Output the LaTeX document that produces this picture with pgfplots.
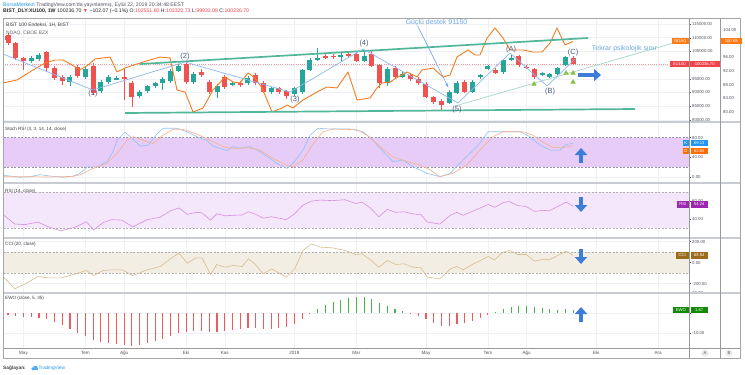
\documentclass[border=0pt]{standalone}
\usepackage{pgfplots}
\pgfplotsset{compat=1.18}
\usepackage{pgfplotstable}
\usepackage{fontspec}
\setmainfont{Liberation Sans}
\usetikzlibrary{arrows.meta}

\definecolor{cgreen}{HTML}{26A69A}
\definecolor{cred}{HTML}{EF5350}
\definecolor{corange}{HTML}{F57C1F}
\definecolor{chan}{HTML}{52B69A}
\definecolor{wave}{HTML}{8CB8EE}
\definecolor{psy}{HTML}{A6D6CC}
\definecolor{lbl}{HTML}{4D5B7C}
\definecolor{annot}{HTML}{6FA6E6}
\definecolor{abl}{HTML}{3B7DD8}
\definecolor{tri}{HTML}{8BC34A}
\definecolor{gridc}{HTML}{EFF1F6}
\definecolor{tickc}{HTML}{50535E}
\definecolor{sepc}{HTML}{C8CBD2}
\definecolor{stochband}{HTML}{E6CCF6}
\definecolor{rsiband}{HTML}{F4E6FB}
\definecolor{cciband}{HTML}{F3EEE3}
\definecolor{bandline}{HTML}{9A93A6}
\definecolor{kcol}{HTML}{93C2F5}
\definecolor{dcol}{HTML}{F8B08C}
\definecolor{rsicol}{HTML}{D690E0}
\definecolor{ccicol}{HTML}{D8BC90}
\definecolor{ewog}{HTML}{4CAF50}
\definecolor{ewor}{HTML}{F05A5A}
\definecolor{tvblue}{HTML}{2196F3}
\definecolor{kbox}{HTML}{2196F3}
\definecolor{dbox}{HTML}{FF6D00}
\definecolor{rsibox}{HTML}{9C27B0}
\definecolor{ccibox}{HTML}{9C6B1E}
\definecolor{ewobox}{HTML}{138A07}
\definecolor{pricered}{HTML}{F0444C}
\definecolor{ndaqbox}{HTML}{FF7A12}

\newcommand\fz[1]{\fontsize{#1}{#1}\selectfont}

% weekly candles, n = week index
\pgfplotstableread{
n o h l c
0 110985 111715 107335 108065
1 108065 108430 101860 102590
2 102590 102955 98210 101495
5 104780 105145 97480 98940
6 98940 99670 94560 95290
7 95655 96385 92735 94195
9 99305 100035 95290 96020
11 99670 100765 89085 89815
15 95655 98575 87260 94925
16 93465 94195 84705 88355
23 100400 101130 93100 93830
25 97480 98575 95655 96385
26 93830 94560 89450 90180
28 95655 96385 91275 92005
30 93465 94195 92005 93100
32 96385 97115 92735 93465
33 93465 94195 89815 90180
35 91640 92005 89450 90180
36 90545 90910 87625 88720
41 103320 104050 102225 102955
42 103500 104050 102400 102900
44 104050 104780 102955 103320
45 104050 104415 101130 101495
47 104050 105145 99305 99670
48 100035 100400 91640 93465
50 98940 99670 94925 95655
52 96385 97115 94195 94925
53 94925 95655 92735 93465
54 93100 93830 87990 88355
55 88355 88720 85800 86530
56 86895 87625 83610 85435
59 93830 94560 89815 90180
63 98210 98940 96750 97115
66 103320 103685 99305 100035
67 99487 100035 98575 99122
68 98575 98940 94925 95655
73 102551.80 103320.73 99933.08 100236.70
}\redc
\pgfplotstableread{
n o h l c
3 101495 103320 100765 102590
4 102225 104415 101495 103685
8 93830 96385 92370 95655
10 95655 99305 94925 98575
12 90545 94560 89815 93830
13 93830 96385 93100 95655
14 94925 96020 94560 95290
17 88720 90910 87990 90180
18 90545 92735 89815 92370
19 92370 93830 91640 93465
20 93465 95655 90910 94925
21 94195 98575 93465 97845
22 97845 100400 97480 99670
24 93830 97480 93100 96750
27 90180 93100 87990 92370
29 93100 94195 92370 93465
31 93465 96020 92735 95290
34 90180 92005 89450 91640
37 89450 92005 88720 91640
38 90180 98575 89450 98210
39 98210 102590 97845 101860
40 101860 106240 101495 102590
43 103320 104415 101495 103685
46 101495 104780 101130 103320
49 93465 99305 92370 98575
51 95655 97480 95290 96750
57 86165 90910 85800 90180
58 89815 94195 89450 93465
60 90180 94560 89815 93830
61 95655 96750 94925 96385
62 98575 100035 98210 99670
64 97480 102225 96750 101860
65 101860 103685 101495 102590
69 96750 97480 96020 97115
70 95655 97115 95290 96750
71 96750 99305 96385 98940
72 100035 103320 99670 102955
}\greenc
\pgfplotstableread{
n v
-0.65 88.49
1.16 89.37
2.20 90.83
3.23 92.29
4.78 94.34
6.07 95.22
7.11 95.22
8.27 93.76
9.30 92.29
10.34 93.76
11.24 95.51
13.18 96.10
14.08 91.71
15.12 92.88
17.05 94.34
19.64 96.10
20.93 95.81
21.83 86.44
22.87 85.86
23.90 80.00
25.19 81.17
26.49 86.44
28.04 90.25
29.07 88.78
29.97 88.49
31.01 91.42
31.91 89.95
32.82 87.03
34.11 80.00
35.40 81.17
36.05 82.05
36.82 81.17
38.11 83.51
39.92 85.86
41.21 87.32
42.51 87.03
43.93 91.71
45.09 83.51
46.77 84.10
47.67 87.03
48.32 88.49
49.35 88.78
50.39 90.25
51.55 91.71
52.84 90.25
53.49 92.29
54.91 92.88
56.20 90.25
57.11 90.83
58.01 96.10
59.43 98.15
60.34 96.68
60.98 96.68
61.89 101.66
62.92 104.59
63.95 101.66
64.86 98.15
66.54 98.15
67.83 97.56
69.00 97.56
70.03 100.20
70.93 104.59
71.96 99.61
73.00 100.68
}\ndaq
\pgfplotstableread{
n v
-1.03 4.6
0.26 2.6
1.55 0
2.84 1.2
4.13 5.3
5.43 2.6
7.11 0
8.40 2.6
9.30 8
10.21 21
11.50 21
12.79 31.5
13.57 51.7
14.08 75
15.12 91
16.02 79
17.05 63
18.09 65
19.25 87.5
20.03 99
21.83 99
23.13 92
24.42 82
25.71 74
26.49 63
28.29 54
29.07 62
29.97 58.6
31.27 62
32.56 51.7
33.85 38
34.75 28
36.05 18
36.82 28
38.11 55
39.02 85
40.05 99
41.60 97.6
44.19 97.6
45.87 92
47.16 75
48.06 58.6
49.74 31.5
51.03 35
52.33 21.4
54.13 8
55.81 1.2
57.11 8
58.79 35
60.59 62
62.02 92
63.95 92
66.15 92
67.44 82
68.73 65
70.03 55
71.32 55
71.96 65
73 69.13
}\stk
\pgfplotstableread{
n v
-1.03 1.2
2.84 1.2
5.43 0.5
8.40 2
9.30 5
10.98 18
12.79 28
14.08 48
15.37 75
16.15 82
17.44 75
18.73 68
20.03 85
21.32 97
22.61 97
24.42 87
26.10 75
27.78 62
29.07 58
30.88 60
32.56 55
34.24 38
36.05 24
36.82 21
38.11 35
39.41 68
40.70 92
41.99 97.6
45.09 96
46.38 85
48.06 62
49.74 41
51.55 31.5
53.23 25
54.52 15
55.81 1.2
57.49 8
59.30 25
60.98 55
62.66 82
63.95 92
66.54 92
67.83 85
69.12 71
70.41 60
71.71 60
73 63.84
}\std
\pgfplotstableread{
n v
-0.76 46
0.87 34.8
2.23 34.2
3.86 37.0
5.22 31.6
6.85 27.4
8.76 31.6
10.12 37.4
11.04 28.4
12.29 36.4
13.38 39.6
14.74 39.0
16.10 31.6
18.00 39.6
19.63 42.2
20.99 49.2
22.08 52.4
23.17 45.4
24.26 47.6
25.07 47.0
26.16 39.0
26.97 46.0
28.06 43.8
29.15 44.4
30.24 44.7
31.05 48.2
31.87 46.0
32.96 41.2
34.04 42.8
35.95 39.6
37.03 46.0
38.12 55.6
39.21 59.8
40.30 61.0
41.93 60.4
43.56 61.4
44.92 57.2
45.73 58.8
46.82 52.4
47.91 42.8
49.00 50.8
50.08 47.6
51.17 48.2
52.26 46.0
53.35 45.0
54.16 37.0
55.79 34.8
57.15 44.4
57.97 47.6
58.79 44.4
60.14 49.2
62.05 56.2
62.86 53.0
63.95 58.2
64.77 59.4
65.85 55.0
66.94 54.0
68.03 48.6
69.12 49.8
69.93 49.2
71.02 54.0
72.11 58.8
73 54.24
}\rsi
\pgfplotstableread{
n v
-0.76 -122
0.87 -249
2.23 -202
3.86 -132
5.22 -145
6.85 -145
8.76 -106
10.12 -75
11.04 -122
12.29 -75
13.38 -68
14.74 -68
16.10 -122
18.00 -68
19.63 -37
20.99 37
22.08 91
23.17 -5
24.26 46
25.07 46
26.16 -113
26.97 -18
28.06 -43
29.15 -27
30.24 -37
31.05 37
31.87 -11
32.96 -106
34.04 -59
35.95 -138
37.03 -59
38.12 116
39.21 179
40.30 148
41.93 141
43.56 116
44.92 78
45.73 84
46.82 27
47.91 -43
49.00 21
50.08 -17
51.17 -11
52.26 -43
53.35 -49
54.16 -138
55.79 -154
57.15 -59
57.97 -37
58.79 -68
60.14 -11
62.05 59
62.86 27
63.95 100
64.77 116
65.85 78
66.94 78
68.03 14
69.12 33
69.93 27
71.02 68
72.11 110
73 68.54
}\cci

\pgfplotsset{
  panel/.style={scale only axis, width=686bp, xmin=-0.65, xmax=87.98,
    axis line style={draw=none},
    xtick={2,10,15,23,28,37,45,54,62,67,76,84}, xticklabels={},
    xtick style={draw=none}, xtick pos=bottom,
    ytick pos=right, yticklabel pos=right,
    ytick style={draw=tickc, line width=0.4bp},
    major tick length=2bp, tick align=outside,
    scaled y ticks=false,
    xmajorgrids, ymajorgrids, grid style={draw=gridc, line width=0.5bp},
    yticklabel style={font=\fz{4.3}, text=tickc, inner sep=1bp,
      /pgf/number format/fixed, /pgf/number format/fixed zerofill,
      /pgf/number format/precision=2, /pgf/number format/1000 sep={},
      /pgf/number format/assume math mode=true}},
  over/.style={scale only axis, width=686bp, xmin=-0.65, xmax=87.98, hide axis},
  candle/.style={draw=none, mark=none, error bars/.cd, y dir=both, y explicit, error mark=none}
}

\begin{document}
\begin{tikzpicture}
\path[use as bounding box] (0,0) rectangle (745bp,-375bp);
\fill[white] (0,0) rectangle (745bp,-375bp);

% ---------- main price panel ----------
\begin{axis}[panel, at={(3bp,-18bp)}, anchor=north west, height=103.7bp,
  ymin=79340, ymax=117190, ytick={80000,85000,90000,95000,105000,110000,115000},
  extra y ticks={100000}, extra y tick labels={}]
\addplot[color=pricered!55, dash pattern=on 1bp off 1.2bp, line width=0.5bp] coordinates {(-0.65,100236.7) (87.98,100236.7)};
\addplot[candle, error bar style={draw=cred, line width=0.7bp}] table[x=n, y expr={(\thisrow{h}+\thisrow{l})/2}, y error expr={(\thisrow{h}-\thisrow{l})/2}] {\redc};
\addplot[candle, error bar style={draw=cgreen, line width=0.7bp}] table[x=n, y expr={(\thisrow{h}+\thisrow{l})/2}, y error expr={(\thisrow{h}-\thisrow{l})/2}] {\greenc};
\addplot[candle, error bar style={draw=cred, line width=5bp}] table[x=n, y expr={(\thisrow{o}+\thisrow{c})/2}, y error expr={abs(\thisrow{o}-\thisrow{c})/2}] {\redc};
\addplot[candle, error bar style={draw=cgreen, line width=5bp}] table[x=n, y expr={(\thisrow{o}+\thisrow{c})/2}, y error expr={abs(\thisrow{o}-\thisrow{c})/2}] {\greenc};
\end{axis}

% ---------- NDAQ compare line ----------
\begin{axis}[panel, at={(3bp,-18bp)}, anchor=north west, height=103.7bp,
  ymin=77.16, ymax=107.51, ytick={80,84,88,92,96,104},
  xmajorgrids=false, ymajorgrids=false,
  yticklabel style={xshift=31bp}, ytick style={draw=none}]
\addplot[corange, line width=0.9bp, line join=round] table[x=n, y=v] {\ndaq};
\end{axis}

% ---------- drawings ----------
\begin{axis}[over, at={(3bp,-18bp)}, anchor=north west, height=103.7bp, ymin=79340, ymax=117190]
\addplot[chan, line width=1.7bp] coordinates {(17.05,100400) (74.94,109890)};
\addplot[chan, line width=1.7bp] coordinates {(15.12,82515) (81.01,83975)};
\addplot[psy, line width=0.7bp] coordinates {(57.75,85070) (87.98,109708)};
\addplot[wave, line width=0.7bp] coordinates {(-0.65,104050) (10.98,90910) (22.87,101130) (36.43,90180) (45.87,105875) (58.14,86165) (64.86,104415) (69.64,92370) (73.26,102225)};
\addplot[only marks, mark=triangle*, mark size=2.6bp, color=tri, mark options={draw=tri, fill=tri}] coordinates {(67.96,93100) (72.1,97115) (73,97115) (73,93830)};
\addplot[annot, line width=0.6bp, -{Stealth[length=4bp,width=3bp]}] coordinates {(52.93,114270) (56.88,91895)};
\node[font=\fz{7}, text=annot] at (axis cs:55.36,115620) {Güçlü destek 91150};
\node[font=\fz{7}, text=annot] at (axis cs:79.65,106058) {Tekrar psikolojik sınır};
\node[font=\fz{7.5}, text=lbl] at (axis cs:10.98,89450) {(1)};
\node[font=\fz{7.5}, text=lbl] at (axis cs:22.87,102955) {(2)};
\node[font=\fz{7.5}, text=lbl] at (axis cs:37.08,87260) {(3)};
\node[font=\fz{7.5}, text=lbl] at (axis cs:46.0,107955) {(4)};
\node[font=\fz{7.5}, text=lbl] at (axis cs:58.0,83866) {(5)};
\node[font=\fz{7.5}, text=lbl] at (axis cs:65,105510) {(A)};
\node[font=\fz{7.5}, text=lbl] at (axis cs:70.03,90290) {(B)};
\node[font=\fz{7.5}, text=lbl] at (axis cs:73,104525) {(C)};
\end{axis}

% ---------- Stoch RSI ----------
\begin{axis}[panel, at={(3bp,-121.7bp)}, anchor=north west, height=61bp,
  ymin=-10.9, ymax=112.3, ytick={0,40,80}]
\fill[stochband] (axis cs:-1,20) rectangle (axis cs:89,80);
\draw[bandline, dash pattern=on 2bp off 1.5bp, line width=0.5bp] (axis cs:-1,80) -- (axis cs:89,80);
\draw[bandline, dash pattern=on 2bp off 1.5bp, line width=0.5bp] (axis cs:-1,20) -- (axis cs:89,20);
\addplot[kcol, line width=0.6bp] table[x=n, y=v] {\stk};
\addplot[dcol, line width=0.6bp] table[x=n, y=v] {\std};
\end{axis}

% ---------- RSI ----------
\begin{axis}[panel, at={(3bp,-182.7bp)}, anchor=north west, height=55.6bp,
  ymin=19.2, ymax=80, ytick={40,60}]
\fill[rsiband] (axis cs:-1,30) rectangle (axis cs:89,70);
\draw[black!30, dash pattern=on 2bp off 1.5bp, line width=0.5bp] (axis cs:-1,70) -- (axis cs:89,70);
\draw[black!30, dash pattern=on 2bp off 1.5bp, line width=0.5bp] (axis cs:-1,30) -- (axis cs:89,30);
\addplot[rsicol, line width=0.6bp] table[x=n, y=v] {\rsi};
\end{axis}

% ---------- CCI ----------
\begin{axis}[panel, at={(3bp,-238.3bp)}, anchor=north west, height=54.4bp,
  ymin=-286, ymax=232, ytick={-200,0,200}]
\fill[cciband] (axis cs:-1,-100) rectangle (axis cs:89,100);
\draw[black!30, dash pattern=on 2bp off 1.5bp, line width=0.5bp] (axis cs:-1,100) -- (axis cs:89,100);
\draw[black!30, dash pattern=on 2bp off 1.5bp, line width=0.5bp] (axis cs:-1,-100) -- (axis cs:89,-100);
\addplot[ccicol, line width=0.6bp] table[x=n, y=v] {\cci};
\end{axis}

% ---------- EWO ----------
\begin{axis}[panel, at={(3bp,-292.7bp)}, anchor=north west, height=55.6bp,
  ymin=-17.5, ymax=10.3, ytick={-10,10}, extra y ticks={0}, extra y tick labels={},
  xticklabels={May,Tem,Ağu,Eki,Kas,2019,Mar,May,Tem,Ağu,Eki,Ara},
  xticklabel style={font=\fz{4.6}, text=tickc, anchor=center, yshift=-2.6bp}]
\addplot[ycomb, ewor, line width=1.1bp] coordinates {
(0,-1) (1,-1.5) (2,-2) (3,-2) (4,-2.5) (5,-3) (6,-4.5) (7,-6) (8,-8) (9,-10)
(10,-11.5) (11,-13.5) (12,-14.5) (13,-15) (14,-15.5) (15,-16) (16,-16.5) (17,-16) (18,-15) (19,-14)
(20,-13) (21,-11.5) (22,-10) (23,-9.5) (24,-9) (25,-9) (26,-9.5) (27,-9.5) (28,-9) (29,-8.5)
(30,-8) (31,-7.5) (32,-7.5) (33,-8) (34,-8) (35,-7.5) (36,-7) (37,-5.5) (38,-3) (39,-0.5)
(52,-0.5) (53,-1.5) (54,-3) (55,-5) (56,-6.5) (57,-6.5) (58,-5.5) (59,-5) (60,-4) (61,-2.5) (62,-1)};
\addplot[ycomb, ewog, line width=1.1bp] coordinates {
(40,2) (41,4) (42,5.5) (43,6.5) (44,7.5) (45,8) (46,8) (47,7) (48,5) (49,3.5) (50,2) (51,1)
(63,0.5) (64,2) (65,3) (66,3.5) (67,3.5) (68,3) (69,2.5) (70,2) (71,1.5) (72,2) (73,1.67)};
\end{axis}

% ---------- frame, labels, annotations ----------
\begin{scope}[x=1bp, y=-1bp]
\draw[sepc, line width=1.8bp] (3,121.7) -- (740,121.7);
\draw[sepc, line width=1.8bp] (3,182.7) -- (740,182.7);
\draw[sepc, line width=1.8bp] (3,238.3) -- (740,238.3);
\draw[sepc, line width=1.8bp] (3,292.7) -- (740,292.7);
\draw[black!40, line width=0.6bp] (3,348.3) -- (740,348.3);
\draw[black!40, line width=0.6bp] (689,18) -- (689,358);
\draw[black!40, line width=0.6bp] (720,18) -- (720,358);
\draw[black!35, line width=0.8bp] (3,18) rectangle (740,358);

% header
\node[anchor=west, font=\fz{5.2}, text=tickc, inner sep=0] at (3,4.8) {\textcolor{tvblue}{BorsaMerkezi} TradingView.com'da yayınlanmış, Eylül 22, 2019 20:34:48 EEST};
\node[anchor=west, font=\fz{5.2}, text=black!85, inner sep=0] at (3,11.6) {\textbf{BIST\_DLY:XU100, 1W} 100236.70 \textcolor{pricered}{▼} −102.07 (−0.1\%) O:\textcolor{pricered}{102551.80} H:\textcolor{pricered}{103320.73} L:\textcolor{pricered}{99933.08} C:\textcolor{pricered}{100236.70}};

% panel titles
\node[anchor=west, font=\fz{5}, text=black!75, inner sep=0] at (6,25) {BIST 100 Endeksi, 1H, BIST};
\node[anchor=west, font=\fz{5}, text=black!60, inner sep=0] at (6,33) {NDAQ, CBOE BZX};
\fill[cred] (5,35.8) rectangle (9.5,39.8);
\node[anchor=west, font=\fz{4.6}, text=black!75, inner sep=0] at (5,129) {Stoch RSI (3, 3, 14, 14, close)};
\node[anchor=west, font=\fz{4.6}, text=black!75, inner sep=0] at (5,191) {RSI (14, close)};
\node[anchor=west, font=\fz{4.6}, text=black!75, inner sep=0] at (5,244) {CCI (20, close)};
\node[anchor=west, font=\fz{4.6}, text=black!75, inner sep=0] at (5,298) {EWO (close, 5, 35)};

% right value boxes
\tikzset{lb/.style={fill=#1, text=white, font=\fz{4.2}, inner sep=0pt, minimum height=6.2bp, anchor=east},
         vb/.style={fill=#1, text=white, font=\fz{4.2}, inner sep=0pt, minimum height=6.2bp, anchor=west}}
\node[lb=ndaqbox, minimum width=17bp] at (689,41) {NDAQ};
\node[vb=ndaqbox, minimum width=21bp] at (720.5,41) {100.68};
\node[lb=pricered, minimum width=19bp] at (689,64) {XU100};
\node[vb=pricered, minimum width=30bp] at (689.5,64) {100236.70};
\node[lb=kbox, minimum width=6bp] at (689,143) {K};
\node[vb=kbox, minimum width=17bp] at (690.5,143) {69.13};
\node[lb=dbox, minimum width=6bp] at (689,151) {D};
\node[vb=dbox, minimum width=17bp] at (690.5,151) {63.84};
\node[lb=rsibox, minimum width=12bp] at (689,204.5) {RSI};
\node[vb=rsibox, minimum width=17bp] at (690.5,204.5) {54.24};
\node[lb=ccibox, minimum width=13bp] at (689,255.5) {CCI};
\node[vb=ccibox, minimum width=17bp] at (690.5,255.5) {68.54};
\node[lb=ewobox, minimum width=16bp] at (689,310) {EWO};
\node[vb=ewobox, minimum width=17bp] at (690.5,310) {1.67};

% big arrows
\draw[abl, line width=4.2bp, -{Triangle[length=7bp,width=12bp]}] (578,75) -- (601,75);
\draw[abl, line width=4.2bp, -{Triangle[length=7bp,width=12bp]}] (581,163) -- (581,148);
\draw[abl, line width=4.2bp, -{Triangle[length=7bp,width=12bp]}] (581,197) -- (581,212);
\draw[abl, line width=4.2bp, -{Triangle[length=7bp,width=12bp]}] (581,249) -- (581,264);
\draw[abl, line width=4.2bp, -{Triangle[length=7bp,width=12bp]}] (581,322) -- (581,307);

% bottom buttons
\fill[black!8] (705,353) circle (3.6);
\node[font=\fz{4.2}, text=tickc] at (705,353) {A};
\fill[black!8] (729,353) circle (3.6);
\node[font=\fz{4.2}, text=tickc] at (729,353) {B};

% footer
\node[anchor=west, font=\fz{4.8}\bfseries, text=black!75, inner sep=0] at (3,368) {Sağlayan:};
\fill[tvblue!80] (33,368.8) circle (1.8);
\fill[tvblue!80] (35.5,367.8) circle (2.1);
\fill[tvblue!80] (31.5,368.2) rectangle (37.5,370.2);
\node[anchor=west, font=\fz{4.8}, text=tvblue, inner sep=0] at (38.5,368) {TradingView};
\end{scope}
\end{tikzpicture}
\end{document}
